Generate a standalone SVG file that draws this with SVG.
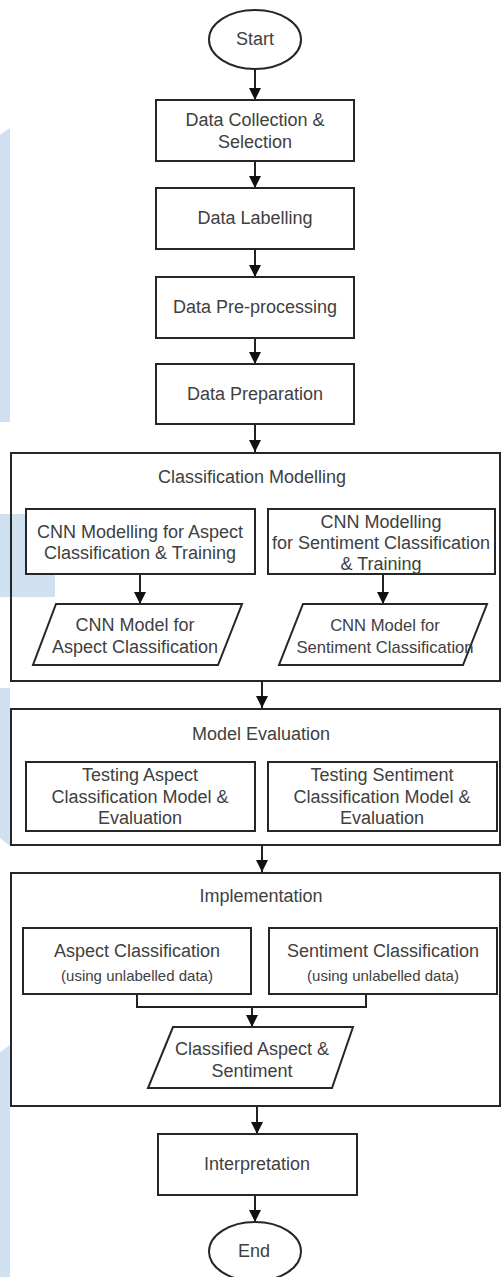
<svg xmlns="http://www.w3.org/2000/svg" width="501" height="1277" viewBox="0 0 501 1277">
<style>
text{font-family:"Liberation Sans",Arial,sans-serif;fill:#404040;text-anchor:middle;dominant-baseline:central}
.t{font-size:18px}
.s{font-size:15px}
.box{fill:#fff;stroke:#262626;stroke-width:2}
.cont{fill:none;stroke:#262626;stroke-width:2}
.ln{fill:none;stroke:#222;stroke-width:2}
.bg{fill:#cfe0f1}
</style>
<defs>
<marker id="ah" markerUnits="userSpaceOnUse" markerWidth="12" markerHeight="12" refX="12" refY="6" orient="auto">
<path d="M0,0 L12,6 L0,12 z" fill="#111"/>
</marker>
</defs>
<rect width="501" height="1277" fill="#fff"/>
<g id="background">
<polygon class="bg" points="0,135 10,128 10,422 0,422"/>
<rect class="bg" x="0" y="514" width="55" height="83"/>
<polygon class="bg" points="0,688 10,688 10,846 0,838"/>
<polygon class="bg" points="0,1052 10,1045 10,1277 0,1277"/>
</g>
<g id="containers">
<g id="classification-modelling">
<rect class="cont" x="11" y="453" width="489" height="228"/>
<text class="t" x="252" y="477">Classification Modelling</text>
</g>
<g id="model-evaluation">
<rect class="cont" x="11" y="709" width="489" height="136"/>
<text class="t" x="261" y="734">Model Evaluation</text>
</g>
<g id="implementation">
<rect class="cont" x="11" y="873" width="489" height="233"/>
<text class="t" x="261" y="896">Implementation</text>
</g>
</g>
<g id="connectors">
<line class="ln" x1="255" y1="69" x2="255" y2="100" marker-end="url(#ah)"/>
<line class="ln" x1="255" y1="161" x2="255" y2="188" marker-end="url(#ah)"/>
<line class="ln" x1="255" y1="249" x2="255" y2="277" marker-end="url(#ah)"/>
<line class="ln" x1="255" y1="338" x2="255" y2="364" marker-end="url(#ah)"/>
<line class="ln" x1="255" y1="424" x2="255" y2="452" marker-end="url(#ah)"/>
<line class="ln" x1="140" y1="574" x2="140" y2="604" marker-end="url(#ah)"/>
<line class="ln" x1="383" y1="574" x2="383" y2="604" marker-end="url(#ah)"/>
<line class="ln" x1="262" y1="681" x2="262" y2="708" marker-end="url(#ah)"/>
<line class="ln" x1="262" y1="845" x2="262" y2="872" marker-end="url(#ah)"/>
<polyline class="ln" points="137,994 137,1007 366,1007 366,994"/>
<line class="ln" x1="252" y1="1007" x2="252" y2="1027" marker-end="url(#ah)"/>
<line class="ln" x1="257" y1="1106" x2="257" y2="1134" marker-end="url(#ah)"/>
<line class="ln" x1="255" y1="1195" x2="255" y2="1222" marker-end="url(#ah)"/>
</g>
<g id="start">
<ellipse class="box" cx="255" cy="39.5" rx="46" ry="29.5"/>
<text class="t" x="255" y="39">Start</text>
</g>
<g id="data-collection">
<rect class="box" x="156" y="100" width="198" height="61"/>
<text class="t" x="255" y="120">Data Collection &amp;</text>
<text class="t" x="255" y="142">Selection</text>
</g>
<g id="data-labelling">
<rect class="box" x="156" y="188" width="198" height="61"/>
<text class="t" x="255" y="218">Data Labelling</text>
</g>
<g id="data-preprocessing">
<rect class="box" x="156" y="277" width="198" height="61"/>
<text class="t" x="255" y="307">Data Pre-processing</text>
</g>
<g id="data-preparation">
<rect class="box" x="156" y="364" width="198" height="60"/>
<text class="t" x="255" y="394">Data Preparation</text>
</g>
<g id="cnn-aspect-training">
<rect class="box" x="26" y="509" width="229" height="65"/>
<text class="t" x="140" y="532">CNN Modelling for Aspect</text>
<text class="t" x="140" y="553">Classification &amp; Training</text>
</g>
<g id="cnn-sentiment-training">
<rect class="box" x="268" y="509" width="227" height="65"/>
<text class="t" x="381" y="522">CNN Modelling</text>
<text class="t" x="381" y="543">for Sentiment Classification</text>
<text class="t" x="381" y="564">&amp; Training</text>
</g>
<g id="cnn-aspect-model">
<polygon class="box" points="56,604 242,604 218,665 33,665"/>
<text class="t" x="135" y="625">CNN Model for</text>
<text class="t" x="135" y="647">Aspect Classification</text>
</g>
<g id="cnn-sentiment-model">
<polygon class="box" points="303,604 487,604 463,665 279,665"/>
<text x="385" y="625" font-size="16.6">CNN Model for</text>
<text x="385" y="647" font-size="16.6">Sentiment Classification</text>
</g>
<g id="testing-aspect">
<rect class="box" x="26" y="762" width="229" height="69"/>
<text class="t" x="140" y="775">Testing Aspect</text>
<text class="t" x="140" y="797">Classification Model &amp;</text>
<text class="t" x="140" y="818">Evaluation</text>
</g>
<g id="testing-sentiment">
<rect class="box" x="268" y="762" width="229" height="69"/>
<text class="t" x="382" y="775">Testing Sentiment</text>
<text class="t" x="382" y="797">Classification Model &amp;</text>
<text class="t" x="382" y="818">Evaluation</text>
</g>
<g id="aspect-classification">
<rect class="box" x="23" y="928" width="228" height="66"/>
<text class="t" x="137" y="951">Aspect Classification</text>
<text class="s" x="137" y="975">(using unlabelled data)</text>
</g>
<g id="sentiment-classification">
<rect class="box" x="269" y="928" width="228" height="66"/>
<text class="t" x="383" y="951">Sentiment Classification</text>
<text class="s" x="383" y="975">(using unlabelled data)</text>
</g>
<g id="classified-output">
<polygon class="box" points="173,1027 353,1027 332,1088 148,1088"/>
<text class="t" x="252" y="1049">Classified Aspect &amp;</text>
<text class="t" x="252" y="1071">Sentiment</text>
</g>
<g id="interpretation">
<rect class="box" x="158" y="1134" width="199" height="61"/>
<text class="t" x="257" y="1164">Interpretation</text>
</g>
<g id="end">
<ellipse class="box" cx="255" cy="1251.5" rx="46" ry="29.5"/>
<text class="t" x="254" y="1251">End</text>
</g>
</svg>
